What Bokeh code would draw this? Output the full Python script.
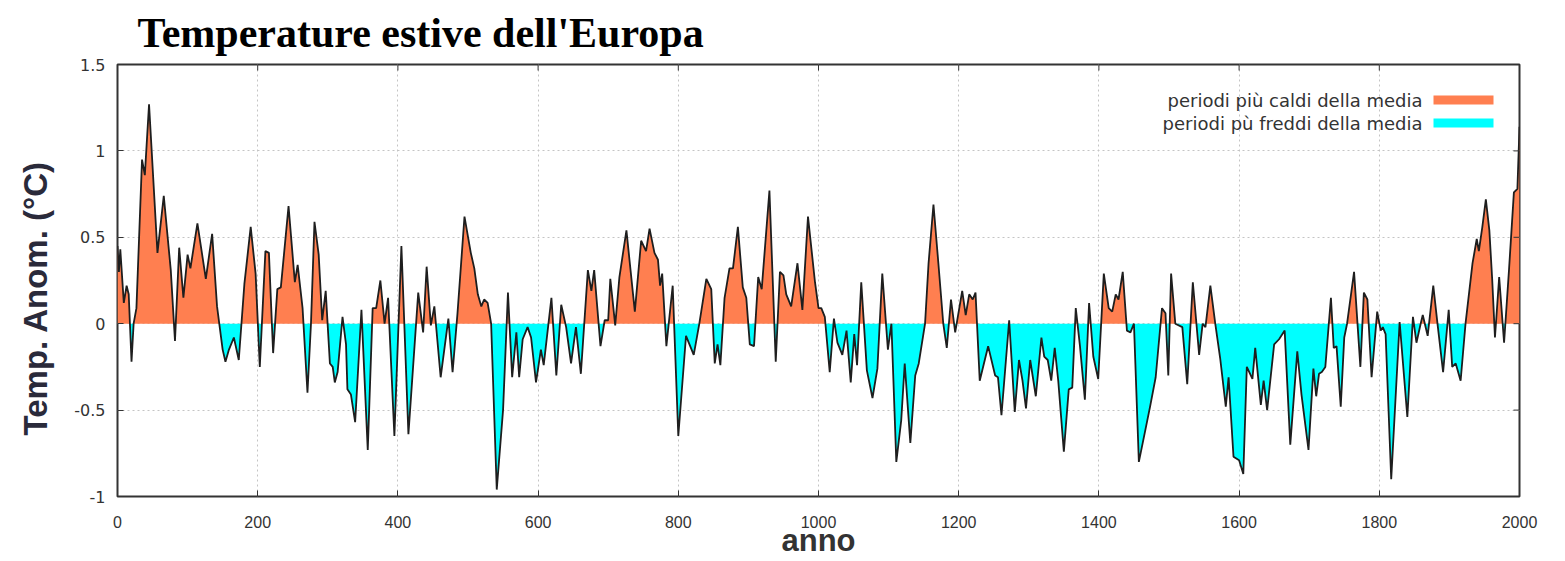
import numpy as np
from bokeh.plotting import figure
from bokeh.models import Range1d, FixedTicker, Label, BoxAnnotation, Title
from bokeh.embed import file_html
from bokeh.resources import INLINE

# ---- data ----
years = [0, 2, 4, 9, 13, 16, 20, 23, 27, 35, 39, 45, 57, 66, 76, 82, 88, 94, 100, 104,
         114, 126, 135, 142, 150, 154, 159, 166, 173, 181, 190, 197, 203, 211, 216, 222,
         228, 233, 244, 253, 257, 264, 271, 276, 281, 287, 292, 297, 303, 307, 310, 314,
         321, 326, 328, 333, 339, 348, 357, 364, 369, 375, 381, 386, 395, 405, 415, 429,
         436, 441, 447, 452, 461, 472, 478, 485, 495, 504, 509, 514, 519, 523, 528, 533,
         541, 550, 557, 563, 569, 573, 578, 585, 590, 597, 604, 608, 619, 626, 633, 640,
         647, 654, 661, 671, 676, 680, 689, 695, 700, 703, 710, 716, 726, 738, 747, 754,
         759, 766, 771, 774, 777, 783, 792, 800, 811, 822, 830, 840, 847, 852, 856, 860,
         866, 873, 878, 885, 892, 897, 902, 908, 914, 919, 930, 939, 945, 950, 954, 961,
         970, 977, 985, 995, 1000, 1004, 1009, 1016, 1022, 1027, 1034, 1040, 1046, 1051,
         1055, 1061, 1069, 1077, 1084, 1091, 1099, 1104, 1111, 1118, 1123, 1131, 1138,
         1143, 1152, 1157, 1164, 1171, 1178, 1183, 1189, 1195, 1205, 1210, 1215, 1220,
         1224, 1230, 1242, 1252, 1256, 1261, 1272, 1280, 1286, 1291, 1296, 1302, 1310,
         1318, 1322, 1327, 1332, 1337, 1342, 1350, 1357, 1362, 1367, 1373, 1380, 1386,
         1392, 1399, 1407, 1414, 1419, 1424, 1428, 1434, 1440, 1445, 1450, 1457, 1466,
         1473, 1481, 1490, 1495, 1499, 1503, 1509, 1519, 1526, 1534, 1543, 1548, 1552,
         1559, 1566, 1573, 1581, 1585, 1592, 1600, 1606, 1611, 1619, 1623, 1631, 1635,
         1640, 1650, 1657, 1665, 1673, 1683, 1689, 1699, 1706, 1710, 1714, 1718, 1723,
         1731, 1735, 1739, 1745, 1750, 1754, 1764, 1773, 1778, 1783, 1789, 1797, 1802,
         1805, 1809, 1817, 1829, 1840, 1848, 1853, 1859, 1862, 1869, 1877, 1883, 1891,
         1899, 1904, 1909, 1916, 1923, 1933, 1939, 1942, 1947, 1952, 1957, 1961, 1965,
         1971, 1978, 1985, 1992, 1997, 2000]
anomaly = [0.45, 0.30, 0.43, 0.12, 0.22, 0.17, -0.22, 0.00, 0.09, 0.95, 0.86, 1.27, 0.41,
           0.74, 0.31, -0.10, 0.44, 0.15, 0.40, 0.32, 0.58, 0.26, 0.52, 0.10, -0.15, -0.22,
           -0.15, -0.08, -0.21, 0.23, 0.56, 0.29, -0.25, 0.42, 0.41, -0.17, 0.20, 0.21, 0.68,
           0.24, 0.34, 0.09, -0.40, 0.00, 0.59, 0.40, 0.02, 0.19, -0.23, -0.25, -0.34, -0.28,
           0.04, -0.12, -0.38, -0.41, -0.57, 0.08, -0.73, 0.09, 0.09, 0.25, 0.00, 0.15, -0.65,
           0.45, -0.64, 0.18, -0.05, 0.33, -0.01, 0.10, -0.31, 0.03, -0.28, 0.06, 0.62, 0.41,
           0.32, 0.17, 0.10, 0.14, 0.12, 0.00, -0.96, -0.50, 0.18, -0.31, -0.05, -0.31, -0.09,
           -0.02, -0.08, -0.34, -0.15, -0.24, 0.15, -0.30, 0.11, -0.02, -0.23, -0.02, -0.29,
           0.31, 0.19, 0.31, -0.13, 0.02, 0.02, 0.26, -0.01, 0.27, 0.54, 0.07, 0.48, 0.42,
           0.55, 0.41, 0.37, 0.22, 0.29, -0.13, 0.22, -0.65, -0.07, -0.18, 0.00, 0.26, 0.20,
           -0.23, -0.12, -0.24, 0.15, 0.32, 0.32, 0.56, 0.21, 0.15, -0.12, -0.13, 0.27, 0.20,
           0.77, -0.22, 0.30, 0.28, 0.17, 0.10, 0.35, 0.08, 0.62, 0.24, 0.09, 0.09, 0.04,
           -0.28, 0.03, -0.11, -0.18, -0.04, -0.34, -0.06, -0.24, 0.24, -0.27, -0.43, -0.26,
           0.29, -0.15, 0.00, -0.80, -0.56, -0.23, -0.69, -0.30, -0.23, 0.00, 0.35, 0.69,
           0.35, 0.00, -0.14, 0.14, -0.05, 0.19, 0.05, 0.17, 0.14, 0.18, -0.33, -0.13, -0.30,
           -0.31, -0.53, 0.02, -0.51, -0.21, -0.33, -0.49, -0.21, -0.42, -0.08, -0.19, -0.21,
           -0.33, -0.14, -0.33, -0.74, -0.38, -0.37, 0.09, -0.13, -0.44, 0.12, -0.19, -0.32,
           0.29, 0.09, 0.07, 0.17, 0.14, 0.30, -0.04, -0.05, 0.00, -0.80, -0.62, -0.48, -0.31,
           0.09, 0.06, -0.30, 0.29, 0.00, -0.02, -0.35, 0.24, -0.18, 0.00, -0.02, 0.22, 0.00,
           -0.20, -0.48, -0.31, -0.77, -0.79, -0.87, -0.25, -0.32, -0.14, -0.47, -0.33, -0.50,
           -0.12, -0.09, -0.04, -0.70, -0.16, -0.41, -0.73, -0.26, -0.42, -0.29, -0.28, -0.25,
           0.15, -0.14, -0.13, -0.48, -0.08, 0.00, 0.30, -0.25, 0.18, 0.14, -0.31, 0.07, -0.04,
           -0.02, -0.06, -0.90, 0.01, -0.54, 0.04, -0.11, 0.00, 0.05, -0.07, 0.22, 0.00, -0.28,
           0.08, -0.25, -0.23, -0.33, 0.00, 0.35, 0.49, 0.42, 0.56, 0.72, 0.54, 0.26, -0.08,
           0.27, -0.11, 0.31, 0.76, 0.78, 1.14]

title_text = "Temperature estive dell'Europa"
x_label = "anno"
y_label = "Temp. Anom. (°C)"
legend_labels = ["periodi più caldi della media", "periodi pù freddi della media"]
x_ticks = [0, 200, 400, 600, 800, 1000, 1200, 1400, 1600, 1800, 2000]
y_ticks = [-1, -0.5, 0, 0.5, 1, 1.5]
y_tick_labels = ["-1", "-0.5", "0", "0.5", "1", "1.5"]

WARM = "#ff7f50"
COLD = "#00ffff"
X0, X1, Y0, Y1 = 0, 2000, -1, 1.5

# split the curve at its zero crossings so the two fills meet the line exactly
fx, fy = [], []
for i in range(len(years)):
    if i > 0:
        a, b = anomaly[i - 1], anomaly[i]
        if a * b < 0:
            xa0, xa1 = years[i - 1], years[i]
            fx.append(xa0 + (xa1 - xa0) * (-a) / (b - a))
            fy.append(0.0)
    fx.append(years[i])
    fy.append(anomaly[i])
fx = np.array(fx, dtype=float)
fy = np.array(fy, dtype=float)
warm = np.maximum(fy, 0.0)
cold = np.minimum(fy, 0.0)

W, H = 1557, 561
ML, MR, MT, MB = 117, 38, 64, 65
frame_w = W - ML - MR
frame_h = H - MT - MB

p = figure(width=W, height=H,
           x_range=Range1d(X0, X1), y_range=Range1d(Y0, Y1),
           output_backend="svg", toolbar_location=None,
           min_border_left=ML, min_border_right=MR,
           min_border_top=MT, min_border_bottom=MB,
           background_fill_color="white", border_fill_color="white")

# grab the default axes before adding anything else
xa = p.below[0]
ya = p.left[0]

p.title.text = title_text
p.title.text_font = "Liberation Serif"
p.title.text_font_style = "bold"
p.title.text_font_size = "42px"
p.title.text_color = "#000000"
p.title.align = "left"
p.title.offset = 20
p.title.vertical_align = "top"
p.title.standoff = 14

p.outline_line_color = "#333333"
p.outline_line_width = 2

p.varea(x=fx, y1=0, y2=warm, fill_color=WARM)
p.varea(x=fx, y1=0, y2=cold, fill_color=COLD)
p.line(years, anomaly, line_color="#1e1e1e", line_width=1.8)

xt = FixedTicker(ticks=x_ticks)
yt = FixedTicker(ticks=y_ticks)

p.xgrid.ticker = xt
p.ygrid.ticker = yt
for g in (p.xgrid, p.ygrid):
    g.grid_line_color = "#c4c4c4"
    g.grid_line_dash = "2 3"
    g.grid_line_width = 1

xa.ticker = xt
xa.axis_label = x_label
xa.axis_label_text_font = "Liberation Sans"
xa.axis_label_text_font_style = "bold"
xa.axis_label_text_font_size = "31px"
xa.axis_label_text_color = "#333333"
xa.axis_label_standoff = -8
xa.major_label_text_font = "Liberation Sans Narrow, Liberation Sans"
xa.major_label_text_font_size = "16px"
xa.major_label_text_color = "#333333"
xa.major_label_standoff = 19
xa.axis_line_color = None
xa.major_tick_in = 6
xa.major_tick_out = 0
xa.major_tick_line_color = "#333333"
xa.minor_tick_line_color = None

ya.ticker = yt
ya.major_label_overrides = {t: s for t, s in zip(y_ticks, y_tick_labels)}
ya.major_label_text_font = "DejaVu Sans"
ya.major_label_text_font_size = "16px"
ya.major_label_text_color = "#333333"
ya.major_label_standoff = 12
ya.axis_line_color = None
ya.major_tick_in = 6
ya.major_tick_out = 0
ya.major_tick_line_color = "#333333"
ya.minor_tick_line_color = None

# y-axis title as a side title so it can sit a little below the frame centre
p.add_layout(Title(text=y_label, text_font="Liberation Sans", text_font_style="bold",
                   text_font_size="33px", text_color="#2a2a3a", align="left",
                   offset=61, vertical_align="top", standoff=32), "left")

# inward tick marks on the top and right frame edges (6 px long, from the ranges)
dy = 6 * (Y1 - Y0) / frame_h
dx = 6 * (X1 - X0) / frame_w
p.segment(x0=x_ticks, y0=[Y1] * len(x_ticks), x1=x_ticks, y1=[Y1 - dy] * len(x_ticks),
          line_color="#333333", line_width=1)
p.segment(x0=[X1] * len(y_ticks), y0=y_ticks, x1=[X1 - dx] * len(y_ticks), y1=y_ticks,
          line_color="#333333", line_width=1)

# legend: right-aligned labels with swatches on their right (screen units, frame-relative)
for lbl, col, ty, sb, st in [(legend_labels[0], WARM, 396, 392, 401),
                             (legend_labels[1], COLD, 373, 369, 378)]:
    p.add_layout(Label(x=1305, y=ty, x_units="screen", y_units="screen", text=lbl,
                       text_font="DejaVu Sans", text_font_size="18px",
                       text_color="#333333", text_align="right",
                       text_baseline="middle"))
    p.add_layout(BoxAnnotation(left=1316, right=1376, bottom=sb, top=st,
                               left_units="screen", right_units="screen",
                               bottom_units="screen", top_units="screen",
                               fill_color=col, fill_alpha=1.0, line_color=None))

open("out.html", "w").write(file_html(p, INLINE))
